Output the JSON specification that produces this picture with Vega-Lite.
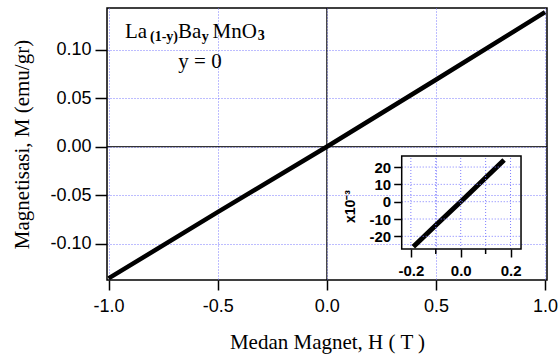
{
  "$schema": "https://vega.github.io/schema/vega-lite/v6.json",
  "autosize": {"type": "none"},
  "padding": {"left": 107, "top": 8, "right": 12, "bottom": 74},
  "width": 440,
  "height": 272,
  "background": "white",
  "data": {"values": [{}]},
  "config": {
    "locale": {"number": {"decimal": ".", "thousands": ",", "grouping": [3], "currency": ["", ""], "minus": "-"}},
    "view": {"stroke": "black", "strokeWidth": 1.5},
    "axis": {
      "labelFont": "Liberation Sans",
      "titleFont": "Liberation Serif",
      "titleFontWeight": "normal",
      "labelColor": "black",
      "titleColor": "black",
      "tickColor": "black",
      "domainColor": "black"
    }
  },
  "datasets": {
    "main": [
      {"H": -1.0, "M": -0.1358},
      {"H": -0.5, "M": -0.0675},
      {"H": 0.0, "M": 0.0},
      {"H": 0.5, "M": 0.069},
      {"H": 1.0, "M": 0.1388}
    ],
    "inset": [
      {"H": -0.19, "M": -26.0},
      {"H": -0.1, "M": -13.6},
      {"H": 0.0, "M": 0.0},
      {"H": 0.1, "M": 13.8},
      {"H": 0.174, "M": 24.1}
    ],
    "insetGridX": [{"g": -0.2}, {"g": -0.1}, {"g": 0.0}, {"g": 0.1}, {"g": 0.2}],
    "insetGridY": [{"g": -20}, {"g": -10}, {"g": 0}, {"g": 10}, {"g": 20}],
    "insetMinor": [{"g": -0.1}, {"g": 0.1}]
  },
  "layer": [
    {
      "data": {"name": "main"},
      "mark": {"type": "line", "color": "black", "strokeWidth": 4.5},
      "encoding": {
        "x": {
          "field": "H", "type": "quantitative",
          "scale": {"domain": [-1.007, 1.009], "nice": false, "zero": false},
          "axis": {
            "orient": "bottom",
            "values": [-1, -0.5, 0, 0.5, 1],
            "format": ".1f",
            "grid": true, "gridColor": "#7b7bff", "gridDash": [1, 2], "gridWidth": 1,
            "domain": false,
            "tickSize": 10, "tickWidth": 1.5,
            "labelFontSize": 18, "labelPadding": 7,
            "title": "Medan Magnet, H ( T )",
            "titleFontSize": 21, "titlePadding": 16
          }
        },
        "y": {
          "field": "M", "type": "quantitative",
          "scale": {"domain": [-0.1374, 0.143], "nice": false, "zero": false},
          "axis": {
            "orient": "left",
            "values": [-0.1, -0.05, 0, 0.05, 0.1],
            "format": ".2f",
            "grid": true, "gridColor": "#7b7bff", "gridDash": [1, 2], "gridWidth": 1,
            "domain": false,
            "tickSize": 12, "tickWidth": 1.5,
            "labelFontSize": 18, "labelPadding": 4,
            "title": "Magnetisasi, M (emu/gr)",
            "titleFontSize": 21, "titlePadding": 17
          }
        }
      }
    },
    {
      "mark": {"type": "rule", "color": "black", "strokeWidth": 1},
      "encoding": {"x": {"datum": 0, "type": "quantitative", "scale": {"domain": [-1.007, 1.009], "nice": false, "zero": false}, "axis": null}}
    },
    {
      "mark": {"type": "rule", "color": "black", "strokeWidth": 1},
      "encoding": {"y": {"datum": 0, "type": "quantitative", "scale": {"domain": [-0.1374, 0.143], "nice": false, "zero": false}, "axis": null}}
    },
    {
      "mark": {"type": "text", "font": "Liberation Serif", "fontSize": 21, "align": "left", "baseline": "alphabetic", "color": "black"},
      "encoding": {
        "x": {"datum": -0.9245, "type": "quantitative", "scale": {"domain": [-1.007, 1.009], "nice": false, "zero": false}, "axis": null},
        "y": {"datum": 0.1121, "type": "quantitative", "scale": {"domain": [-0.1374, 0.143], "nice": false, "zero": false}, "axis": null},
        "text": {"value": "La"}
      }
    },
    {
      "mark": {"type": "text", "font": "Liberation Serif", "fontSize": 14, "fontWeight": "bold", "align": "left", "baseline": "alphabetic", "color": "black"},
      "encoding": {
        "x": {"datum": -0.81, "type": "quantitative", "scale": {"domain": [-1.007, 1.009], "nice": false, "zero": false}, "axis": null},
        "y": {"datum": 0.1085, "type": "quantitative", "scale": {"domain": [-0.1374, 0.143], "nice": false, "zero": false}, "axis": null},
        "text": {"value": "(1-y)"}
      }
    },
    {
      "mark": {"type": "text", "font": "Liberation Serif", "fontSize": 21, "align": "left", "baseline": "alphabetic", "color": "black"},
      "encoding": {
        "x": {"datum": -0.682, "type": "quantitative", "scale": {"domain": [-1.007, 1.009], "nice": false, "zero": false}, "axis": null},
        "y": {"datum": 0.1121, "type": "quantitative", "scale": {"domain": [-0.1374, 0.143], "nice": false, "zero": false}, "axis": null},
        "text": {"value": "Ba"}
      }
    },
    {
      "mark": {"type": "text", "font": "Liberation Serif", "fontSize": 14, "fontWeight": "bold", "align": "left", "baseline": "alphabetic", "color": "black"},
      "encoding": {
        "x": {"datum": -0.573, "type": "quantitative", "scale": {"domain": [-1.007, 1.009], "nice": false, "zero": false}, "axis": null},
        "y": {"datum": 0.1085, "type": "quantitative", "scale": {"domain": [-0.1374, 0.143], "nice": false, "zero": false}, "axis": null},
        "text": {"value": "y"}
      }
    },
    {
      "mark": {"type": "text", "font": "Liberation Serif", "fontSize": 21, "align": "left", "baseline": "alphabetic", "color": "black"},
      "encoding": {
        "x": {"datum": -0.5236, "type": "quantitative", "scale": {"domain": [-1.007, 1.009], "nice": false, "zero": false}, "axis": null},
        "y": {"datum": 0.1121, "type": "quantitative", "scale": {"domain": [-0.1374, 0.143], "nice": false, "zero": false}, "axis": null},
        "text": {"value": "MnO"}
      }
    },
    {
      "mark": {"type": "text", "font": "Liberation Serif", "fontSize": 14, "fontWeight": "bold", "align": "left", "baseline": "alphabetic", "color": "black"},
      "encoding": {
        "x": {"datum": -0.316, "type": "quantitative", "scale": {"domain": [-1.007, 1.009], "nice": false, "zero": false}, "axis": null},
        "y": {"datum": 0.11, "type": "quantitative", "scale": {"domain": [-0.1374, 0.143], "nice": false, "zero": false}, "axis": null},
        "text": {"value": "3"}
      }
    },
    {
      "mark": {"type": "text", "font": "Liberation Serif", "fontSize": 21, "align": "center", "baseline": "alphabetic", "color": "black"},
      "encoding": {
        "x": {"datum": -0.581, "type": "quantitative", "scale": {"domain": [-1.007, 1.009], "nice": false, "zero": false}, "axis": null},
        "y": {"datum": 0.0811, "type": "quantitative", "scale": {"domain": [-0.1374, 0.143], "nice": false, "zero": false}, "axis": null},
        "text": {"value": "y = 0"}
      }
    },
    {
      "data": {"name": "inset"},
      "mark": {"type": "line", "color": "black", "strokeWidth": 5},
      "encoding": {
        "x": {
          "field": "H", "type": "quantitative",
          "scale": {"domain": [-1.419, 0.3462], "nice": false, "zero": false},
          "axis": {
            "orient": "bottom", "offset": -31,
            "values": [-0.2, 0, 0.2], "format": ".1f",
            "grid": false, "domain": false,
            "tickSize": 8, "tickWidth": 1.5,
            "labelFontSize": 15, "labelFontWeight": "bold", "labelPadding": 6,
            "title": null
          }
        },
        "y": {
          "field": "M", "type": "quantitative",
          "scale": {"domain": [-45.2, 111.8], "nice": false, "zero": false},
          "axis": {
            "orient": "left", "offset": -294.7,
            "values": [-20, -10, 0, 10, 20],
            "grid": false, "domain": false,
            "tickSize": 8, "tickWidth": 1.5,
            "labelFontSize": 15, "labelFontWeight": "bold", "labelPadding": 3,
            "title": "x10⁻³",
            "titleFont": "Liberation Sans", "titleFontWeight": "bold", "titleFontSize": 14,
            "titleX": -44, "titleY": 198
          }
        }
      }
    },
    {
      "data": {"name": "insetGridX"},
      "mark": {"type": "rule", "color": "#7b7bff", "strokeDash": [1, 2], "strokeWidth": 1},
      "encoding": {
        "x": {"field": "g", "type": "quantitative", "scale": {"domain": [-1.419, 0.3462], "nice": false, "zero": false}, "axis": null},
        "y": {"datum": -27.3, "type": "quantitative", "scale": {"domain": [-45.2, 111.8], "nice": false, "zero": false}, "axis": null},
        "y2": {"datum": 26.4}
      }
    },
    {
      "data": {"name": "insetGridY"},
      "mark": {"type": "rule", "color": "#7b7bff", "strokeDash": [1, 2], "strokeWidth": 1},
      "encoding": {
        "y": {"field": "g", "type": "quantitative", "scale": {"domain": [-45.2, 111.8], "nice": false, "zero": false}, "axis": null},
        "x": {"datum": -0.2367, "type": "quantitative", "scale": {"domain": [-1.419, 0.3462], "nice": false, "zero": false}, "axis": null},
        "x2": {"datum": 0.242}
      }
    },
    {
      "data": {"name": "insetMinor"},
      "mark": {"type": "rule", "color": "black", "strokeWidth": 1.5},
      "encoding": {
        "x": {"field": "g", "type": "quantitative", "scale": {"domain": [-1.419, 0.3462], "nice": false, "zero": false}, "axis": null},
        "y": {"datum": -27.3, "type": "quantitative", "scale": {"domain": [-45.2, 111.8], "nice": false, "zero": false}, "axis": null},
        "y2": {"datum": -30.2}
      }
    },
    {
      "mark": {"type": "rect", "fillOpacity": 0, "stroke": "black", "strokeWidth": 1.5},
      "encoding": {
        "x": {"datum": -0.2367, "type": "quantitative", "scale": {"domain": [-1.419, 0.3462], "nice": false, "zero": false}, "axis": null},
        "x2": {"datum": 0.242},
        "y": {"datum": -27.3, "type": "quantitative", "scale": {"domain": [-45.2, 111.8], "nice": false, "zero": false}, "axis": null},
        "y2": {"datum": 26.4}
      }
    }
  ],
  "resolve": {
    "scale": {"x": "independent", "y": "independent"},
    "axis": {"x": "independent", "y": "independent"}
  }
}
